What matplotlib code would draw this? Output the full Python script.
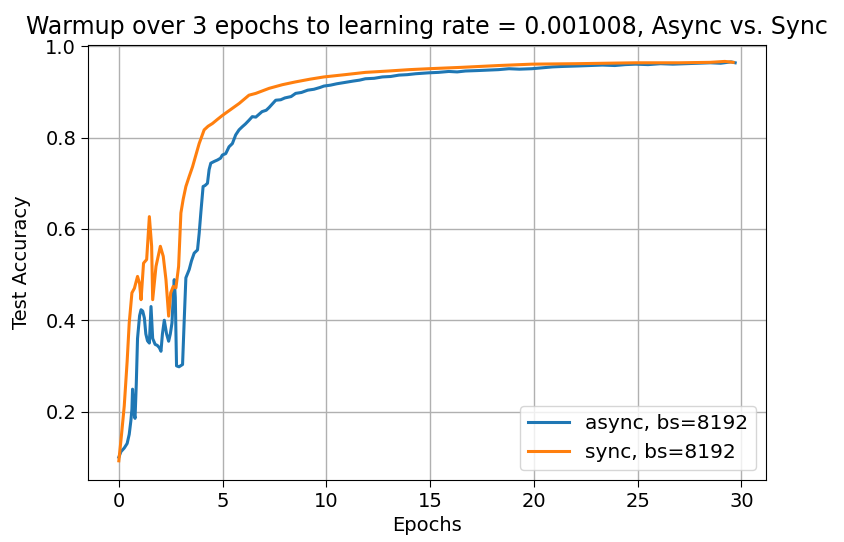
import matplotlib
matplotlib.use('Agg')
import matplotlib.pyplot as plt

# async, bs=8192
async_epochs = [0.0, 0.1, 0.26, 0.4, 0.5, 0.58, 0.63, 0.66, 0.72, 0.78, 0.84, 0.9, 1.0, 1.07,
                1.15, 1.23, 1.3, 1.38, 1.47, 1.55, 1.63, 1.75, 1.85, 1.95, 2.03, 2.1, 2.19, 2.3,
                2.4, 2.48, 2.56, 2.62, 2.67, 2.72, 2.78, 2.9, 3.07, 3.15, 3.23, 3.39, 3.5, 3.63,
                3.79, 3.87, 3.95, 4.06, 4.15, 4.27, 4.35, 4.43, 4.6, 4.75, 4.9, 4.99, 5.15, 5.31,
                5.47, 5.63, 5.79, 5.95, 6.1, 6.27, 6.43, 6.6, 6.75, 6.9, 7.1, 7.24, 7.4, 7.56,
                7.8, 8.0, 8.3, 8.52, 8.8, 9.1, 9.4, 9.7, 9.88, 10.2, 10.5, 10.9, 11.3, 11.6,
                11.88, 12.3, 12.7, 13.1, 13.5, 13.9, 14.3, 14.93, 15.4, 15.9, 16.3, 16.7, 17.3,
                17.8, 18.3, 18.8, 19.3, 19.9, 20.4, 20.9, 21.4, 22.1, 22.7, 23.3, 23.9, 24.4,
                24.9, 25.5, 26.1, 26.7, 27.3, 27.9, 28.5, 29.0, 29.5, 29.7]
async_acc = [0.10, 0.112, 0.12, 0.13, 0.15, 0.18, 0.205, 0.249, 0.20, 0.185, 0.26, 0.36, 0.41,
             0.423, 0.42, 0.405, 0.37, 0.355, 0.35, 0.43, 0.36, 0.347, 0.345, 0.34, 0.332, 0.37,
             0.40, 0.37, 0.354, 0.37, 0.394, 0.45, 0.489, 0.45, 0.30, 0.298, 0.303, 0.40, 0.493,
             0.511, 0.53, 0.547, 0.554, 0.59, 0.635, 0.693, 0.695, 0.70, 0.73, 0.744, 0.748,
             0.751, 0.755, 0.762, 0.765, 0.78, 0.787, 0.806, 0.817, 0.824, 0.83, 0.838, 0.846,
             0.845, 0.851, 0.857, 0.86, 0.866, 0.874, 0.882, 0.883, 0.887, 0.89, 0.897, 0.899,
             0.904, 0.906, 0.91, 0.913, 0.915, 0.918, 0.921, 0.924, 0.926, 0.929, 0.93, 0.933,
             0.934, 0.937, 0.938, 0.94, 0.942, 0.943, 0.945, 0.944, 0.946, 0.947, 0.948, 0.949,
             0.951, 0.95, 0.951, 0.953, 0.955, 0.956, 0.957, 0.958, 0.959, 0.958, 0.96, 0.961,
             0.96, 0.962, 0.961, 0.962, 0.963, 0.964, 0.963, 0.966, 0.964]

# sync, bs=8192
sync_epochs = [0.0, 0.13, 0.26, 0.4, 0.5, 0.63, 0.75, 0.9, 1.0, 1.07, 1.19, 1.34, 1.47, 1.58,
               1.63, 1.79, 2.0, 2.14, 2.27, 2.4, 2.5, 2.62, 2.75, 2.88, 2.99, 3.1, 3.23, 3.39,
               3.55, 3.7, 3.87, 4.11, 4.3, 4.51, 4.75, 5.0, 5.4, 5.8, 6.27, 6.6, 7.24, 7.88,
               8.5, 9.2, 9.88, 10.9, 11.88, 13.0, 14.0, 14.93, 16.5, 18.3, 19.9, 22.0, 24.9,
               27.0, 28.5, 29.2, 29.6]
sync_acc = [0.092, 0.15, 0.212, 0.31, 0.394, 0.46, 0.47, 0.496, 0.48, 0.445, 0.525, 0.533,
            0.627, 0.562, 0.445, 0.518, 0.562, 0.54, 0.489, 0.409, 0.46, 0.474, 0.471, 0.518,
            0.635, 0.665, 0.693, 0.715, 0.736, 0.76, 0.787, 0.817, 0.825, 0.831, 0.84, 0.849,
            0.862, 0.875, 0.893, 0.897, 0.908, 0.916, 0.922, 0.928, 0.933, 0.938, 0.943,
            0.946, 0.949, 0.951, 0.954, 0.958, 0.961, 0.962, 0.964, 0.964, 0.965, 0.967, 0.965]

fig = plt.figure(figsize=(8.44, 5.42), dpi=100)
ax = fig.add_axes([0.1043, 0.1144, 0.8033, 0.8026])

ax.plot(async_epochs, async_acc, color='#1f77b4', linewidth=2.2, label='async, bs=8192')
ax.plot(sync_epochs, sync_acc, color='#ff7f0e', linewidth=2.2, label='sync, bs=8192')

ax.set_ylim(0.05, 1.003)
ax.set_yticks([0.2, 0.4, 0.6, 0.8, 1.0])
ax.set_xticks([0, 5, 10, 15, 20, 25, 30])
ax.grid(True, color='#b0b0b0', linewidth=1)
ax.tick_params(labelsize=14, length=5)

ax.set_title('Warmup over 3 epochs to learning rate = 0.001008, Async vs. Sync',
             fontsize=17, pad=8)
ax.set_xlabel('Epochs', fontsize=14, labelpad=4)
ax.set_ylabel('Test Accuracy', fontsize=14, labelpad=10)
ax.legend(loc='lower right', fontsize=14.5)

fig.savefig('out.png', dpi=100)
